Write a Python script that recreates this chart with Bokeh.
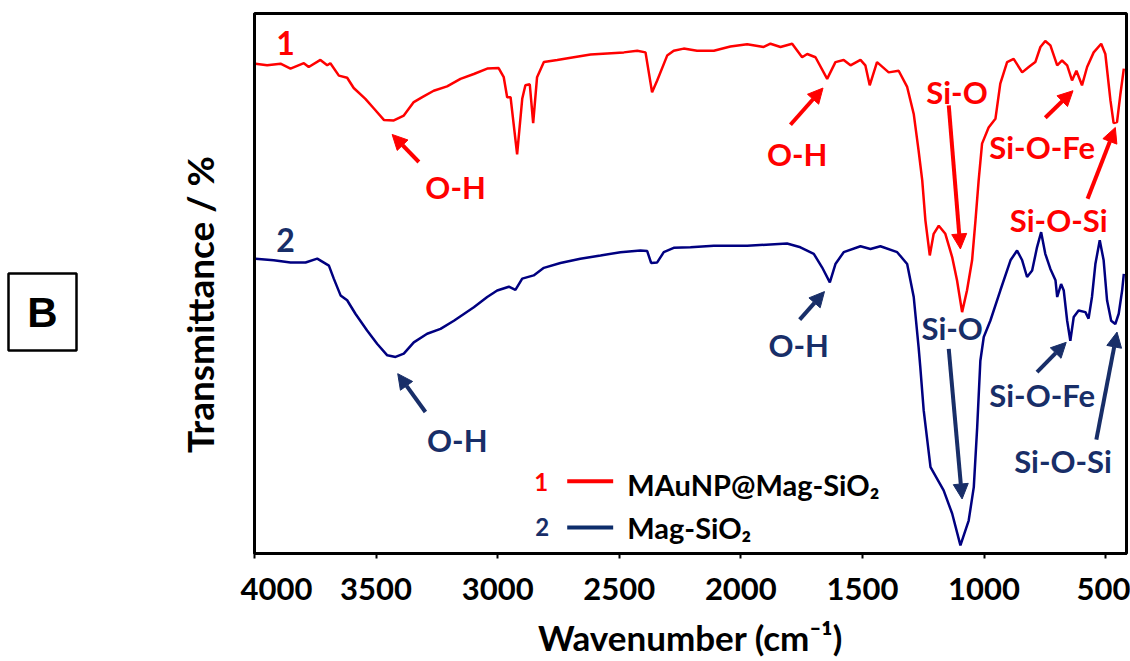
import math
from bokeh.plotting import figure
from bokeh.models import Range1d, Label, Arrow, NormalHead, FixedTicker
from bokeh.layouts import row
from bokeh.core.properties import value
from bokeh.embed import file_html
from bokeh.resources import INLINE

# ---- data ----
wavenumber_1 = [3996, 3948, 3893, 3852, 3797, 3777, 3729, 3701, 3688, 3653, 3619, 3592, 3544, 3509,
                3468, 3427, 3386, 3345, 3310, 3263, 3208, 3153, 3098, 3043, 2996, 2975, 2961, 2947,
                2920, 2899, 2886, 2868, 2854, 2838, 2810, 2755, 2687, 2618, 2550, 2481, 2426, 2392,
                2365, 2344, 2303, 2276, 2235, 2180, 2111, 2043, 1974, 1906, 1878, 1837, 1789, 1748,
                1727, 1693, 1645, 1611, 1577, 1549, 1508, 1488, 1470, 1440, 1392, 1351, 1316, 1289,
                1269, 1254, 1241, 1223, 1207, 1186, 1159, 1131, 1111, 1090, 1070, 1049, 1035, 1022,
                1008, 981, 953, 933, 905, 878, 843, 816, 789, 768, 748, 727, 699, 679, 658, 638, 620,
                597, 576, 549, 518, 501, 480, 467, 453, 439, 425]
transmittance_1 = [90.7, 90.4, 90.7, 89.8, 90.8, 90.1, 91.4, 90.4, 90.8, 88.5, 88.1, 86.2, 84.2, 82.4,
                   80.3, 80.2, 81.1, 83.6, 84.5, 85.7, 86.5, 87.9, 88.8, 89.8, 89.9, 88.2, 84.5, 84.5,
                   73.9, 84.2, 86.7, 86.9, 79.7, 88.2, 91.0, 91.4, 91.9, 92.4, 92.6, 92.8, 93.1, 92.8,
                   85.4, 87.6, 92.2, 93.1, 93.5, 93.1, 93.1, 93.9, 94.3, 93.8, 94.4, 93.8, 94.4, 91.9,
                   92.5, 91.9, 87.9, 91.0, 91.4, 90.4, 91.4, 90.4, 86.7, 91.0, 89.1, 89.4, 86.4, 81.4,
                   74.6, 69.1, 61.7, 55.2, 59.2, 60.7, 59.2, 54.9, 50.6, 44.7, 48.7, 54.3, 61.7, 69.1,
                   75.9, 78.9, 80.5, 87.0, 91.0, 91.6, 89.1, 90.1, 91.0, 93.8, 94.9, 94.1, 90.4, 91.3,
                   90.4, 87.6, 89.4, 86.7, 90.1, 92.8, 94.4, 92.5, 83.9, 79.7, 79.9, 85.1, 89.8]

wavenumber_2 = [3996, 3921, 3852, 3790, 3742, 3694, 3674, 3646, 3619, 3585, 3537, 3495, 3454, 3420,
                3386, 3345, 3290, 3235, 3180, 3098, 3043, 3002, 2954, 2927, 2899, 2852, 2810, 2742,
                2660, 2577, 2495, 2413, 2385, 2369, 2344, 2317, 2276, 2207, 2111, 1974, 1810, 1755,
                1700, 1666, 1634, 1611, 1577, 1508, 1467, 1426, 1357, 1316, 1289, 1269, 1262, 1248,
                1220, 1166, 1131, 1097, 1063, 1042, 1028, 1015, 1001, 974, 933, 891, 864, 843, 823,
                802, 782, 765, 748, 727, 706, 699, 683, 672, 658, 645, 631, 611, 583, 570, 556, 542,
                524, 508, 494, 477, 460, 446, 432, 425]
transmittance_2 = [54.6, 54.3, 53.9, 53.9, 54.6, 53.3, 50.9, 47.8, 46.9, 44.4, 41.3, 38.8, 36.7, 36.4,
                   37.0, 39.1, 40.7, 41.6, 43.1, 45.6, 47.5, 48.7, 49.4, 48.8, 50.9, 51.5, 52.9, 53.8,
                   54.6, 55.2, 55.8, 56.1, 56.0, 53.8, 53.9, 55.8, 56.6, 56.7, 57.0, 57.0, 57.4, 56.7,
                   55.5, 53.0, 50.2, 53.6, 55.8, 56.9, 56.4, 56.9, 55.8, 53.6, 47.5, 38.2, 34.5, 26.5,
                   16.0, 11.7, 7.4, 1.5, 6.1, 12.3, 23.4, 35.7, 40.1, 43.1, 48.7, 54.3, 56.1, 54.3, 51.2,
                   52.4, 56.7, 59.5, 55.5, 52.7, 50.6, 47.5, 49.9, 48.7, 43.1, 39.4, 43.8, 45.0, 44.7,
                   43.5, 47.5, 53.6, 58.0, 54.3, 46.9, 43.1, 42.5, 44.4, 48.7, 51.8]

series_names = ["MAuNP@Mag-SiO\u2082", "Mag-SiO\u2082"]
x_ticks = [4000, 3500, 3000, 2500, 2000, 1500, 1000, 500]
y_title = "Transmittance / %"
x_title = "Wavenumber (cm\u207b\u00b9)"

RED = "#FF0000"
NAVY_LINE = "#000080"
NAVY = "#182E68"
FONT = "Lato"

TOP, BOTTOM = 13, 108

# ---- left strip: panel letter and y title (pixel-like coordinates, y up) ----
pb = figure(width=240, height=661, output_backend="svg", toolbar_location=None, title=None,
            x_axis_location=None, y_axis_location=None,
            x_range=Range1d(0, 240), y_range=Range1d(661 - 553, 661 - 13),
            min_border_left=0, min_border_right=0, min_border_top=TOP, min_border_bottom=BOTTOM)
pb.grid.visible = False
pb.outline_line_color = None
pb.quad(left=[8], right=[76], top=[661 - 273], bottom=[661 - 350], fill_color="white",
        line_color="black", line_width=2.5)
pb.text(x=[42], y=[661 - 312], text=["B"], text_font=value("Liberation Sans"),
        text_font_style="bold", text_font_size="42px", text_align="center",
        text_baseline="middle", text_color="black")
pb.text(x=[199], y=[661 - 304], text=[y_title], angle=math.pi / 2, text_font=value(FONT),
        text_font_style="bold", text_font_size="37px", text_align="center",
        text_baseline="middle", text_color="black")

# ---- main chart ----
p = figure(width=890, height=661, output_backend="svg", toolbar_location=None, title=None,
           x_range=Range1d(4000, 414), y_range=Range1d(0, 100),
           min_border_left=14, min_border_right=4, min_border_top=TOP, min_border_bottom=BOTTOM)
p.grid.visible = False
p.outline_line_color = "black"
p.outline_line_width = 3
p.background_fill_color = "white"
p.border_fill_color = "white"

p.line(wavenumber_1, transmittance_1, line_color=RED, line_width=2.5)
p.line(wavenumber_2, transmittance_2, line_color=NAVY_LINE, line_width=2.5)

xa = p.xaxis[0]
xa.ticker = FixedTicker(ticks=x_ticks)
xa.minor_tick_line_color = None
xa.major_tick_in = 0
xa.major_tick_out = 5
xa.major_tick_line_width = 2
xa.axis_line_width = 3
xa.major_label_text_font = FONT
xa.major_label_text_font_style = "bold"
xa.major_label_text_font_size = "31px"
xa.major_label_text_color = "black"
xa.major_label_standoff = 19
xa.axis_label = x_title
xa.axis_label_text_font = FONT
xa.axis_label_text_font_style = "bold"
xa.axis_label_text_font_size = "35px"
xa.axis_label_text_color = "black"
xa.axis_label_standoff = 13

ya = p.yaxis[0]
ya.ticker = FixedTicker(ticks=[])
ya.minor_tick_line_color = None
ya.major_tick_in = 0
ya.major_tick_out = 0
ya.major_label_standoff = 0
ya.axis_line_width = 3


def label(txt, x, y, color, size, align="center"):
    p.add_layout(Label(x=x, y=y, text=txt, text_color=color, text_font=FONT,
                       text_font_style="bold", text_font_size=size,
                       text_align=align, text_baseline="middle"))


def arrow(x0, y0, x1, y1, color):
    p.add_layout(Arrow(end=NormalHead(size=15, fill_color=color, line_color=color, line_width=1),
                       x_start=x0, y_start=y0, x_end=x1, y_end=y1,
                       line_color=color, line_width=4))


# series numbers
label("1", 3872, 94.6, RED, "32px")
label("2", 3872, 58.1, NAVY, "32px")

# red annotations
label("O-H", 3173, 67.8, RED, "31px")
arrow(3324, 72.5, 3434, 77.6, RED)
label("O-H", 1768, 74.0, RED, "31px")
arrow(1796, 79.4, 1662, 86.2, RED)
label("Si-O", 1111, 85.4, RED, "31px")
arrow(1145, 83.0, 1097, 56.4, RED)
label("Si-O-Fe", 761, 75.2, RED, "31px")
arrow(748, 80.7, 634, 85.7, RED)
label("Si-O-Si", 693, 61.7, RED, "31px")
arrow(574, 65.7, 460, 78.9, RED)

# navy annotations
label("O-H", 3166, 21.1, NAVY, "31px")
arrow(3297, 26.2, 3411, 33.3, NAVY)
label("O-H", 1762, 38.7, NAVY, "31px")
arrow(1758, 43.3, 1656, 48.5, NAVY)
label("Si-O", 1131, 41.8, NAVY, "31px")
arrow(1145, 37.9, 1090, 10.1, NAVY)
label("Si-O-Fe", 761, 29.3, NAVY, "31px")
arrow(782, 33.6, 662, 39.1, NAVY)
label("Si-O-Si", 675, 17.2, NAVY, "31px")
arrow(538, 21.1, 453, 41.0, NAVY)

# legend (drawn manually: number, line sample, name)
label("1", 2821, 13.2, RED, "24px")
p.add_layout(Arrow(end=None, x_start=2714, y_start=13.4, x_end=2525, y_end=13.4,
                   line_color=RED, line_width=4))
label(series_names[0], 2467, 12.8, "black", "29px", align="left")
label("2", 2817, 5.0, NAVY, "24px")
p.add_layout(Arrow(end=None, x_start=2714, y_start=4.8, x_end=2525, y_end=4.8,
                   line_color="#0D2D6B", line_width=4))
label(series_names[1], 2467, 4.8, "black", "29px", align="left")

layout = row(pb, p, spacing=0)
open("out.html", "w").write(file_html(layout, INLINE))
